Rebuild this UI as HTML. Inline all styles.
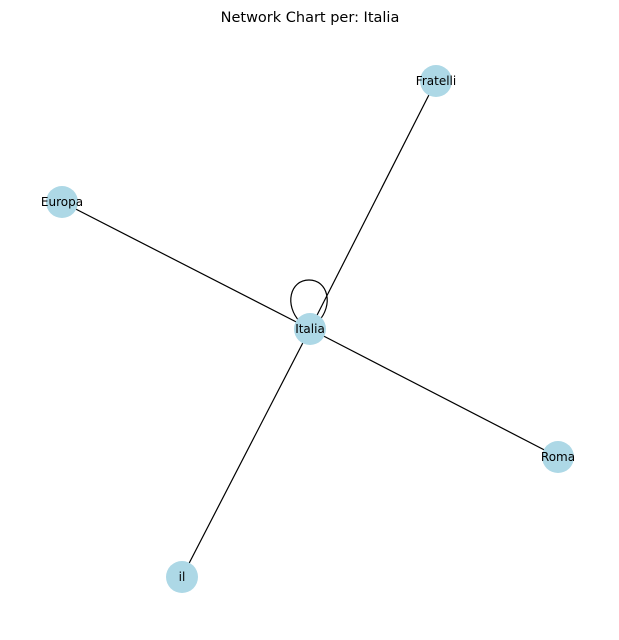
<!DOCTYPE html>
<html><head><style>body{margin:0;background:#fff}svg{display:block}</style></head><body>
<svg width="619" height="640" viewBox="0 0 619 640" xmlns="http://www.w3.org/2000/svg" font-family="DejaVu Sans, Liberation Sans, sans-serif">
<rect width="619" height="640" fill="#fff"/>
<text x="310" y="22" text-anchor="middle" font-size="14.5">Network Chart per: Italia</text>
<g stroke="#000" stroke-width="1.2" fill="none">
<line x1="310" y1="329" x2="436" y2="81"/>
<line x1="310" y1="329" x2="62" y2="202"/>
<line x1="310" y1="329" x2="558" y2="457"/>
<line x1="310" y1="329" x2="182" y2="577"/>
<path d="M300 322 C284 305 290 280 309 280 C328 280 334 305 318 322"/>
</g>
<g fill="#add8e6">
<circle cx="310" cy="329" r="16"/>
<circle cx="436" cy="81" r="16"/>
<circle cx="62" cy="202" r="16"/>
<circle cx="558" cy="457" r="16"/>
<circle cx="182" cy="577" r="16"/>
</g>
<g font-size="12" text-anchor="middle">
<text x="310" y="333">Italia</text>
<text x="436" y="85">Fratelli</text>
<text x="62" y="206">Europa</text>
<text x="558" y="461">Roma</text>
<text x="182" y="581">il</text>
</g>
</svg>
</body></html>
